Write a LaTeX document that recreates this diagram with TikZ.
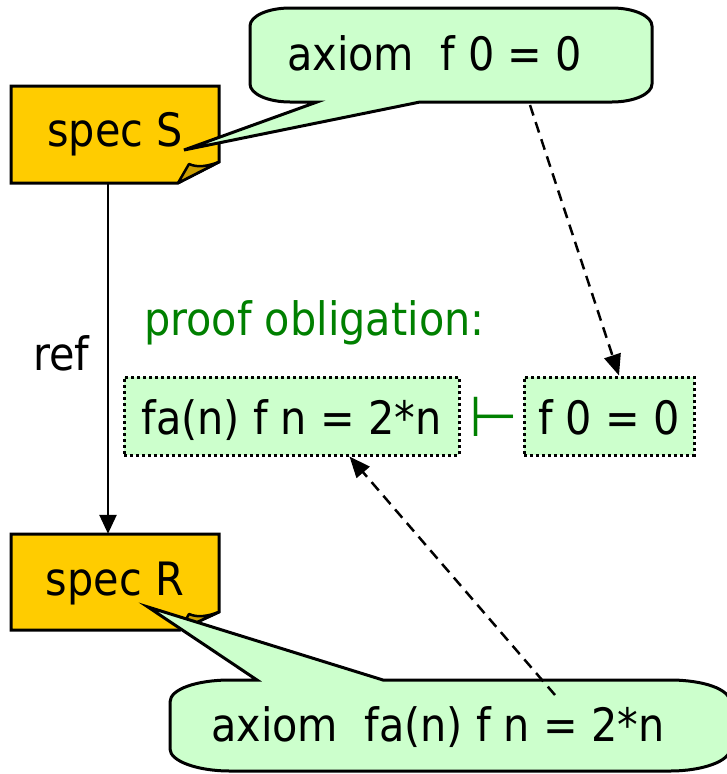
\documentclass[tikz,border=0pt]{standalone}
\usepackage{fontspec}
\setmainfont{DejaVu Sans}[FakeStretch=0.9]
\newfontfamily\symfont{DejaVu Sans}
\usetikzlibrary{arrows.meta,calc}
\definecolor{specyellow}{HTML}{FFCC00}
\definecolor{specfold}{HTML}{CC9F00}
\definecolor{callgreen}{HTML}{CCFFCC}
\definecolor{oblgreen}{HTML}{008000}
\begin{document}
\begin{tikzpicture}[x=1pt,y=-1pt,
  bigtext/.style={font=\fontsize{46}{55}\selectfont, inner sep=0pt},
  specbox/.style={bigtext, minimum width=208pt, minimum height=97pt, text height=23pt, text depth=0pt},
  oblbox/.style={bigtext, draw=black, line width=3pt, dash pattern=on 3pt off 3pt, fill=callgreen, minimum height=78pt, text height=36pt, text depth=0pt},
  specshape/.style={draw=black, fill=specyellow, line width=3pt, line join=miter},
  foldshape/.style={draw=black, fill=specfold, line width=2.5pt, line join=round},
  callout/.style={draw=black, fill=callgreen, line width=3pt, line join=miter},
  dasharrow/.style={line width=2.5pt, dash pattern=on 11pt off 7pt, -{Triangle[length=21pt,width=17pt]}},
  refarrow/.style={line width=2.5pt, -{Triangle[length=19pt,width=17pt]}}
]
\useasboundingbox (0,0) rectangle (726,774);

% spec S
\draw[specshape] (11,86) -- (219,86) -- (219,162) -- (178,183) -- (11,183) -- cycle;
\draw[foldshape] (178,183) -- (189,164) .. controls (198,168) and (208,166) .. (219,162) -- cycle;
\node[specbox] (specS) at (115,134.5) {spec S};

% spec R
\draw[specshape] (11,534) -- (219,534) -- (219,612) -- (180,630) -- (11,630) -- cycle;
\draw[foldshape] (180,630) -- (189,614) .. controls (198,618) and (208,616) .. (219,612) -- cycle;
\node[specbox, minimum height=96pt, text height=26pt] (specR) at (115,582) {spec R};

% refinement
\draw[refarrow] ($(specS.south)+(-7,0)$) -- ($(specR.north)+(-7,0)$);
\node[bigtext, anchor=base west] (reflab) at (33,370) {ref};

% top callout
\draw[callout] (290,8) -- (612,8) .. controls (634,8) and (652,16) .. (652,26) -- (652,84)
  .. controls (652,94) and (634,102) .. (612,102) -- (420,102) -- (184,150) -- (317,102) -- (290,102)
  .. controls (268,102) and (250,94) .. (250,84) -- (250,26) .. controls (250,16) and (268,8) .. (290,8) -- cycle;
\node[bigtext, anchor=base west] (axS) at (287,70) {axiom\ \ f 0 = 0};

% bottom callout
\draw[callout] (230,680) -- (257,680) -- (148,607) -- (383,680) -- (670,680)
  .. controls (703,680) and (730,689) .. (730,702) -- (730,749)
  .. controls (730,761) and (703,771) .. (670,771) -- (230,771)
  .. controls (197,771) and (170,761) .. (170,749) -- (170,702)
  .. controls (170,689) and (197,680) .. (230,680) -- cycle;
\node[bigtext, anchor=base west] (axR) at (211,741) {axiom\ \ fa(n) f n = 2*n};

% proof obligation
\node[bigtext, anchor=base west, text=oblgreen] (po) at (144,335) {proof obligation:};
\node[oblbox, minimum width=335pt] (goal) at (291.5,416) {fa(n) f n = 2*n};
\node[oblbox, minimum width=170pt] (hyp) at (609,416) {f 0 = 0};
\node[inner sep=0pt, font=\symfont\fontsize{56}{60}\selectfont, anchor=base, text=oblgreen] (ts) at (493.5,436) {⊢};

% dashed connectors
\coordinate (d1) at (530,105);
\coordinate (d2) at (555,695);
\draw[dasharrow] (d1) -- ($(hyp.north)+(10,0)$);
\draw[dasharrow] (d2) -- ($(goal.south)+(58,0)$);
\end{tikzpicture}
\end{document}
